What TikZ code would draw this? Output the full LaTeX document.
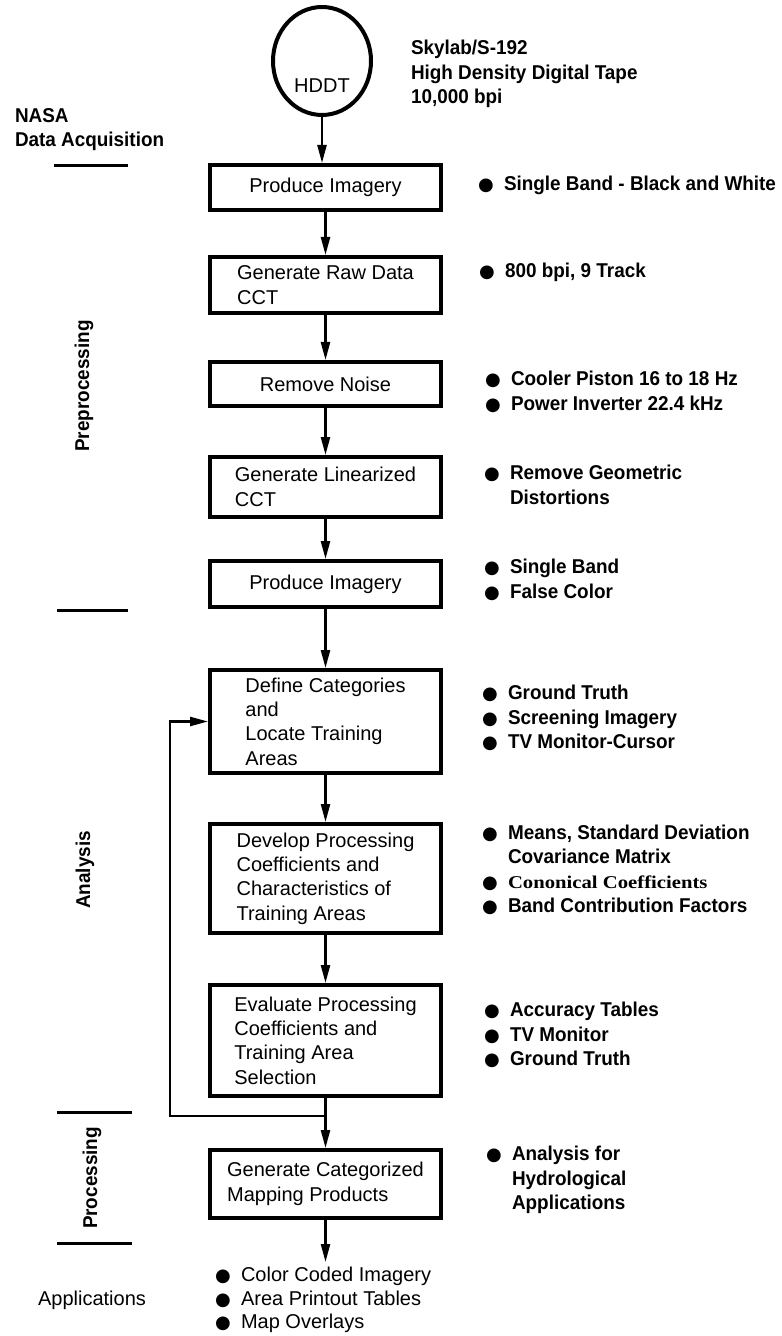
\documentclass[tikz,border=0pt]{standalone}
\usepackage{fontspec}
\setmainfont{Liberation Sans}[BoldFeatures={FakeStretch=0.945}]
\newfontfamily\dotfont{DejaVu Sans}
\newfontfamily\oddfont[FakeStretch=1.15]{Liberation Serif}
\usetikzlibrary{arrows.meta,shapes.geometric}

\newcommand{\dotitem}{\makebox[13pt][l]{\dotfont\small ●}}
\newcommand{\dotskip}{\hspace*{13pt}}

\begin{document}
\begin{tikzpicture}[x=0.5pt,y=-0.5pt,line width=1pt,
  font=\fontsize{10}{12.2}\selectfont,
  stepbox/.style={draw,line width=2pt,minimum width=115.5pt,inner sep=0pt},
  flow/.style={-{Triangle[length=9pt,width=4.5pt]},line width=1.2pt},
  note/.style={anchor=west,align=left,inner sep=0pt,font=\fontsize{10}{12.2}\selectfont\bfseries},
  phase/.style={align=left,inner sep=0pt,font=\fontsize{10}{12}\selectfont\bfseries},
  rule/.style={line width=1.5pt}]

\useasboundingbox (0,0) rectangle (781,1336);

% tape
\node[ellipse,draw,line width=2pt,minimum width=49pt,minimum height=54pt] (Tape) at (322,61) {};
\node (HDDT) at (322,86) {HDDT};
\node[note] (NoteTape) at (410,74) {Skylab/S-192\\High Density Digital Tape\\10,000 bpi};

\node[phase,anchor=west] (PhaseA0) at (14,130) {NASA\\Data Acquisition};
\draw[rule] (54,166) -- (128,166);


% 1
\node[stepbox,minimum height=22.5pt] (BoxA1) at (325.5,187.5) {Produce Imagery};
\node[stepbox,minimum height=28pt,align=left] (BoxA2) at (325.5,285) {Generate Raw Data\\CCT};
\node[stepbox,minimum height=22pt] (BoxA3) at (325.5,384) {Remove Noise};
\node[stepbox,minimum height=30pt,align=left] (BoxA4) at (325.5,487) {Generate Linearized\\CCT};
\node[stepbox,minimum height=23pt] (BoxA5) at (325.5,584) {Produce Imagery};

\node[note] (NoteA1) at (477,185) {\dotitem Single Band - Black and White};
\node[note] (NoteA2) at (478,272) {\dotitem 800 bpi, 9 Track};
\node[note] (NoteA3) at (484,392) {\dotitem Cooler Piston 16 to 18 Hz\\\dotitem Power Inverter 22.4 kHz};
\node[note] (NoteA4) at (483,485) {\dotitem Remove Geometric\\\dotskip Distortions};
\node[note] (NoteA5) at (483,580) {\dotitem Single Band\\\dotitem False Color};

\node[phase,rotate=90] (PhaseA) at (84,386) {Preprocessing};
\draw[rule] (57,610) -- (128,610);

\draw[flow] (Tape) -- (Tape |- BoxA1.north);
\draw[flow] (BoxA1) to (BoxA2);
\draw[flow] (BoxA2) to (BoxA3);
\draw[flow] (BoxA3) to (BoxA4);
\draw[flow] (BoxA4) to (BoxA5);


% 2
\node[stepbox,minimum height=51.5pt,align=left] (BoxB1) at (325.5,721.5) {Define Categories\\and\\Locate Training\\Areas};
\node[stepbox,minimum height=54.5pt,align=left] (BoxB2) at (325.5,878.5) {Develop Processing\\Coefficients and\\Characteristics of\\Training Areas};
\node[stepbox,minimum height=55.5pt,align=left] (BoxB3) at (325.5,1040.5) {Evaluate Processing\\Coefficients and\\Training Area\\Selection};

\node[note] (NoteB1) at (481,718) {\dotitem Ground Truth\\\dotitem Screening Imagery\\\dotitem TV Monitor-Cursor};
\node[note] (NoteB2) at (481,870) {\dotitem Means, Standard Deviation\\\dotskip Covariance Matrix\\\dotitem {\oddfont\fontsize{9}{12.2}\selectfont Cononical Coefficients}\\\dotitem Band Contribution Factors};
\node[note] (NoteB3) at (483,1035) {\dotitem Accuracy Tables\\\dotitem TV Monitor\\\dotitem Ground Truth};

\node[phase,rotate=90] (PhaseB) at (85,870) {Analysis};

\draw[flow] (BoxA5) to (BoxB1);
\draw[flow] (BoxB1) to (BoxB2);
\draw[flow] (BoxB2) to (BoxB3);


% 3
\node[stepbox,minimum height=34pt,align=left] (BoxC1) at (325.5,1184) {Generate Categorized\\Mapping Products};
\node[note] (NoteC1) at (485,1180) {\dotitem Analysis for\\\dotskip Hydrological\\\dotskip Applications};

\draw[rule] (57,1112) -- (132,1112);
\node[phase,rotate=90] (PhaseC) at (92,1178) {Processing};
\draw[rule] (57,1243) -- (132,1243);

\draw[flow] (BoxB3) to (BoxC1);

\coordinate (Loop) at (325.5,1116);
\coordinate (LoopCorner) at (170,1116);
\draw[flow] (Loop) -- (LoopCorner) |- (BoxB1.west);


% applications
\coordinate (AppsEnd) at (325.5,1262);
\draw[flow] (BoxC1) -- (AppsEnd);

\node[note,font=\fontsize{10}{11.6}\selectfont] (NoteApps) at (214,1300) {\dotitem Color Coded Imagery\\\dotitem Area Printout Tables\\\dotitem Map Overlays};
\node[inner sep=0pt] (PhaseD) at (92,1300) {Applications};

\end{tikzpicture}
\end{document}
